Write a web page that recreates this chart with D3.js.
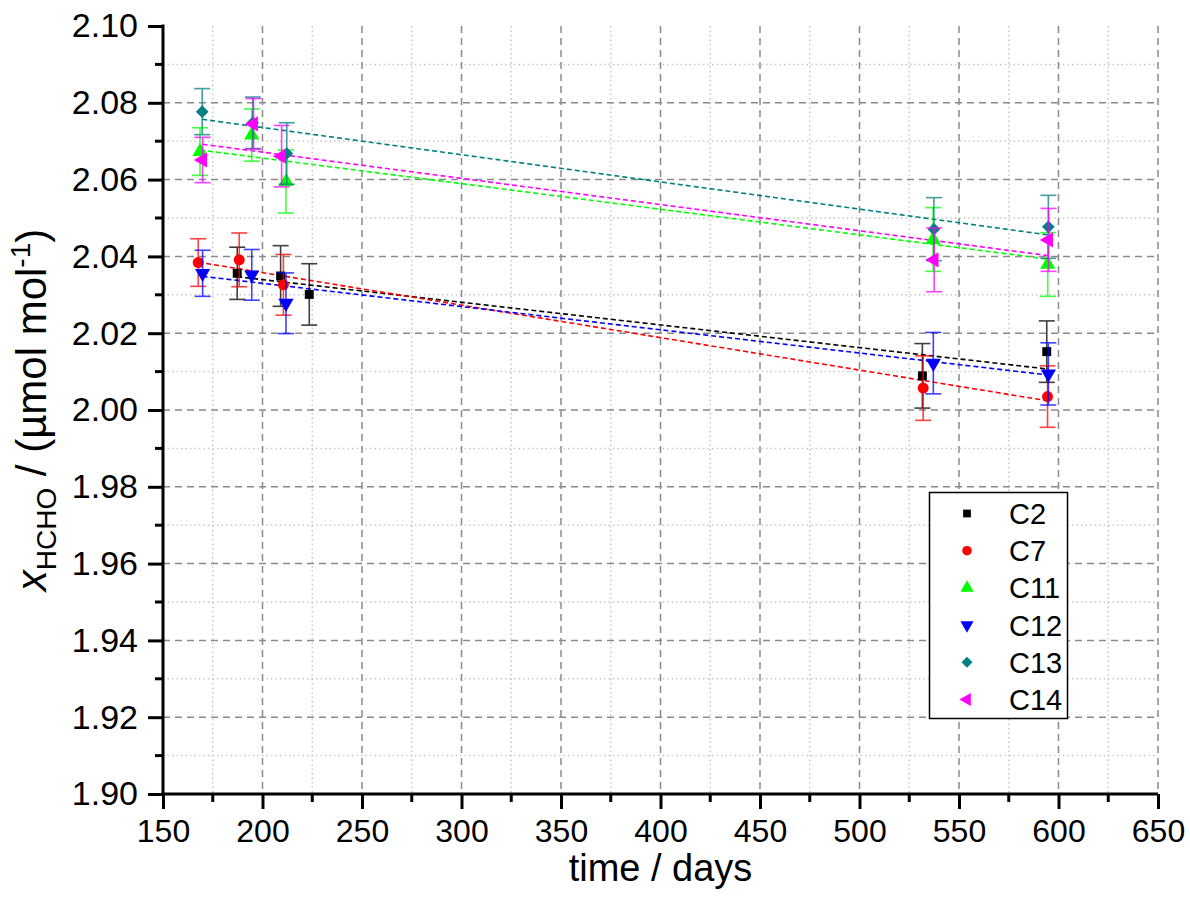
<!DOCTYPE html>
<html>
<head>
<meta charset="utf-8">
<script src="https://cdn.jsdelivr.net/npm/d3@7/dist/d3.min.js"></script>
<style>
  html, body { margin: 0; padding: 0; background: #fff; }
  svg { display: block; font-family: "Liberation Sans", Arial, sans-serif; }
</style>
</head>
<body>
<svg id="chart" width="1190" height="912"></svg>
<script>
// Cylinder names and plotting colours
const seriesNames = ["C2", "C7", "C11", "C12", "C13", "C14"];
const seriesColors = ["#000000", "#ff0000", "#00ff00", "#0000ff", "#008080", "#ff00ff"];

// Measurement times (days)
const daysC2  = [187.3, 209.1, 223.5, 531.6, 594.1];
const daysC7  = [167.7, 188.3, 210.5, 532.0, 594.5];
const daysC11 = [168.6, 194.6, 211.8, 537.0, 594.6];
const daysC12 = [169.9, 194.6, 211.8, 537.1, 594.9];
const daysC13 = [169.7, 195.1, 212.2, 537.4, 594.9];
const daysC14 = [169.9, 195.5, 209.6, 537.5, 595.0];

// HCHO amount fraction (µmol/mol)
const valC2  = [2.0356, 2.0349, 2.0301, 2.0089, 2.0152];
const valC7  = [2.0384, 2.0391, 2.0326, 2.0057, 2.0035];
const valC11 = [2.0673, 2.0716, 2.0595, 2.0444, 2.0379];
const valC12 = [2.0356, 2.0352, 2.0278, 2.0122, 2.0094];
const valC13 = [2.0777, 2.0748, 2.0668, 2.0471, 2.0477];
const valC14 = [2.0651, 2.0745, 2.0661, 2.0391, 2.0443];

// Uncertainties
const errC2  = [0.0068, 0.0079, 0.0080, 0.0084, 0.0080];
const errC7  = [0.0062, 0.0070, 0.0079, 0.0084, 0.0080];
const errC11 = [0.0062, 0.0068, 0.0082, 0.0083, 0.0083];
const errC12 = [0.0060, 0.0066, 0.0079, 0.0080, 0.0081];
const errC13 = [0.0060, 0.0067, 0.0080, 0.0082, 0.0082];
const errC14 = [0.0059, 0.0066, 0.0080, 0.0083, 0.0082];

// Linear drift fits: value at first and at last measurement
const fitStart = [2.0347, 2.0385, 2.0677, 2.0348, 2.0757, 2.0692];
const fitEnd   = [2.0107, 2.0024, 2.0393, 2.0091, 2.0456, 2.0402];

// Axis ticks
const xTicks = [150, 200, 250, 300, 350, 400, 450, 500, 550, 600, 650];
const xMinor = [175, 225, 275, 325, 375, 425, 475, 525, 575, 625];
const yTicks = [1.90, 1.92, 1.94, 1.96, 1.98, 2.00, 2.02, 2.04, 2.06, 2.08, 2.10];
const yMinor = [1.91, 1.93, 1.95, 1.97, 1.99, 2.01, 2.03, 2.05, 2.07, 2.09];

const allDays = [daysC2, daysC7, daysC11, daysC12, daysC13, daysC14];
const allVals = [valC2, valC7, valC11, valC12, valC13, valC14];
const allErrs = [errC2, errC7, errC11, errC12, errC13, errC14];

const series = seriesNames.map((name, i) => ({
  name, color: seriesColors[i],
  points: allDays[i].map((d, j) => ({ x: d, y: allVals[i][j], e: allErrs[i][j] })),
  fit: [
    { x: allDays[i][0], y: fitStart[i] },
    { x: allDays[i][allDays[i].length - 1], y: fitEnd[i] }
  ]
}));

const svg = d3.select("#chart");
const L = 163, R = 1158, T = 26, B = 794;
const x = d3.scaleLinear().domain([150, 650]).range([L, R]);
const y = d3.scaleLinear().domain([1.90, 2.10]).range([B, T]);

// Grid: minor dotted, major dashed
const grid = svg.append("g");
grid.selectAll("line.xm").data(xMinor).join("line")
  .attr("x1", d => x(d)).attr("x2", d => x(d)).attr("y1", T).attr("y2", B)
  .attr("stroke", "#c8c8c8").attr("stroke-width", 1.5).attr("stroke-dasharray", "1.5,3");
grid.selectAll("line.ym").data(yMinor).join("line")
  .attr("y1", d => y(d)).attr("y2", d => y(d)).attr("x1", L).attr("x2", R)
  .attr("stroke", "#c8c8c8").attr("stroke-width", 1.5).attr("stroke-dasharray", "1.5,3");
grid.selectAll("line.xM").data(xTicks.filter(d => d > 150)).join("line")
  .attr("x1", d => x(d)).attr("x2", d => x(d)).attr("y1", T).attr("y2", B)
  .attr("stroke", "#8a8a8a").attr("stroke-width", 1.5).attr("stroke-dasharray", "7,5");
grid.selectAll("line.yM").data(yTicks.filter(d => d > 1.90 && d < 2.10)).join("line")
  .attr("y1", d => y(d)).attr("y2", d => y(d)).attr("x1", L).attr("x2", R)
  .attr("stroke", "#8a8a8a").attr("stroke-width", 1.5).attr("stroke-dasharray", "7,5");

// Fit lines
const line = d3.line().x(d => x(d.x)).y(d => y(d.y));
svg.append("g").selectAll("path").data(series).join("path")
  .attr("d", s => line(s.fit))
  .attr("fill", "none").attr("stroke", s => s.color)
  .attr("stroke-width", 1.6).attr("stroke-dasharray", "5,3");

// Marker shapes
const symbolFor = {
  C2:  { type: d3.symbolSquare, size: 80, rot: 0 },
  C7:  { type: d3.symbolCircle, size: 95, rot: 0 },
  C11: { type: d3.symbolTriangle, size: 100, rot: 0 },
  C12: { type: d3.symbolTriangle, size: 100, rot: 180 },
  C13: { type: d3.symbolSquare, size: 80, rot: 45 },
  C14: { type: d3.symbolTriangle, size: 100, rot: -90 }
};

// Error bars and markers
series.forEach(s => {
  const g = svg.append("g");
  const eb = g.append("g").attr("stroke", s.color).attr("stroke-width", 1.6).attr("opacity", 0.75);
  eb.selectAll("line.v").data(s.points).join("line")
    .attr("x1", d => x(d.x)).attr("x2", d => x(d.x))
    .attr("y1", d => y(d.y + d.e)).attr("y2", d => y(d.y - d.e));
  eb.selectAll("line.t").data(s.points).join("line")
    .attr("x1", d => x(d.x) - 8).attr("x2", d => x(d.x) + 8)
    .attr("y1", d => y(d.y + d.e)).attr("y2", d => y(d.y + d.e));
  eb.selectAll("line.b").data(s.points).join("line")
    .attr("x1", d => x(d.x) - 8).attr("x2", d => x(d.x) + 8)
    .attr("y1", d => y(d.y - d.e)).attr("y2", d => y(d.y - d.e));
  const sym = symbolFor[s.name];
  g.selectAll("path").data(s.points).join("path")
    .attr("d", d3.symbol().type(sym.type).size(sym.size))
    .attr("transform", d => `translate(${x(d.x)},${y(d.y)}) rotate(${sym.rot})`)
    .attr("fill", s.color);
});

// Axes
const xAxis = svg.append("g").attr("transform", `translate(0,${B})`)
  .call(d3.axisBottom(x).tickValues(xTicks).tickSize(15).tickPadding(10).tickFormat(d3.format("d")));
xAxis.append("g").selectAll("line").data(xMinor).join("line")
  .attr("x1", d => x(d)).attr("x2", d => x(d)).attr("y1", 0).attr("y2", 8)
  .attr("stroke", "#000").attr("stroke-width", 3);
const yAxis = svg.append("g").attr("transform", `translate(${L},0)`)
  .call(d3.axisLeft(y).tickValues(yTicks).tickSize(15).tickPadding(10).tickFormat(d3.format(".2f")));
yAxis.append("g").selectAll("line").data(yMinor).join("line")
  .attr("y1", d => y(d)).attr("y2", d => y(d)).attr("x1", 0).attr("x2", -8)
  .attr("stroke", "#000").attr("stroke-width", 3);
[xAxis, yAxis].forEach(a => {
  a.selectAll(".tick line").attr("stroke-width", 3);
  a.selectAll(".tick text").attr("fill", "#000")
    .attr("font-family", "Liberation Sans, Arial, sans-serif");
});
xAxis.selectAll(".tick text").attr("font-size", 32);
yAxis.selectAll(".tick text").attr("font-size", 34);
xAxis.select(".domain").remove();
yAxis.select(".domain").remove();
svg.append("line").attr("x1", L - 1.5).attr("x2", R).attr("y1", B).attr("y2", B)
  .attr("stroke", "#000").attr("stroke-width", 3);
svg.append("line").attr("x1", L).attr("x2", L).attr("y1", T - 1.5).attr("y2", B + 1.5)
  .attr("stroke", "#000").attr("stroke-width", 3);

// Axis titles
svg.append("text").attr("x", (L + R) / 2).attr("y", 881)
  .attr("text-anchor", "middle").attr("font-size", 38).text("time / days");

const yt = svg.append("text")
  .attr("transform", "translate(46,410) rotate(-90)")
  .attr("text-anchor", "middle").attr("font-size", 42);
yt.append("tspan").attr("font-style", "italic").text("x");
yt.append("tspan").attr("font-size", 28).attr("dy", 10).text("HCHO");
yt.append("tspan").attr("dy", -10).text(" / (µmol mol");
yt.append("tspan").attr("font-size", 28).attr("dy", -16).text("-1");
yt.append("tspan").attr("dy", 16).text(")");

// Legend
const lg = svg.append("g");
lg.append("rect").attr("x", 929.5).attr("y", 492.5).attr("width", 138).attr("height", 226)
  .attr("fill", "#fff").attr("stroke", "#000").attr("stroke-width", 1.5);
const ly = d3.scaleLinear().domain([0, 5]).range([513.5, 699.5]);
series.forEach((s, i) => {
  const sym = symbolFor[s.name];
  lg.append("path")
    .attr("d", d3.symbol().type(sym.type).size(sym.size * 0.75)())
    .attr("transform", `translate(967,${ly(i)}) rotate(${sym.rot})`)
    .attr("fill", s.color);
  lg.append("text").attr("x", 1009).attr("y", ly(i) + 10.5)
    .attr("font-size", 29).attr("fill", "#000").text(s.name);
});
</script>
</body>
</html>
